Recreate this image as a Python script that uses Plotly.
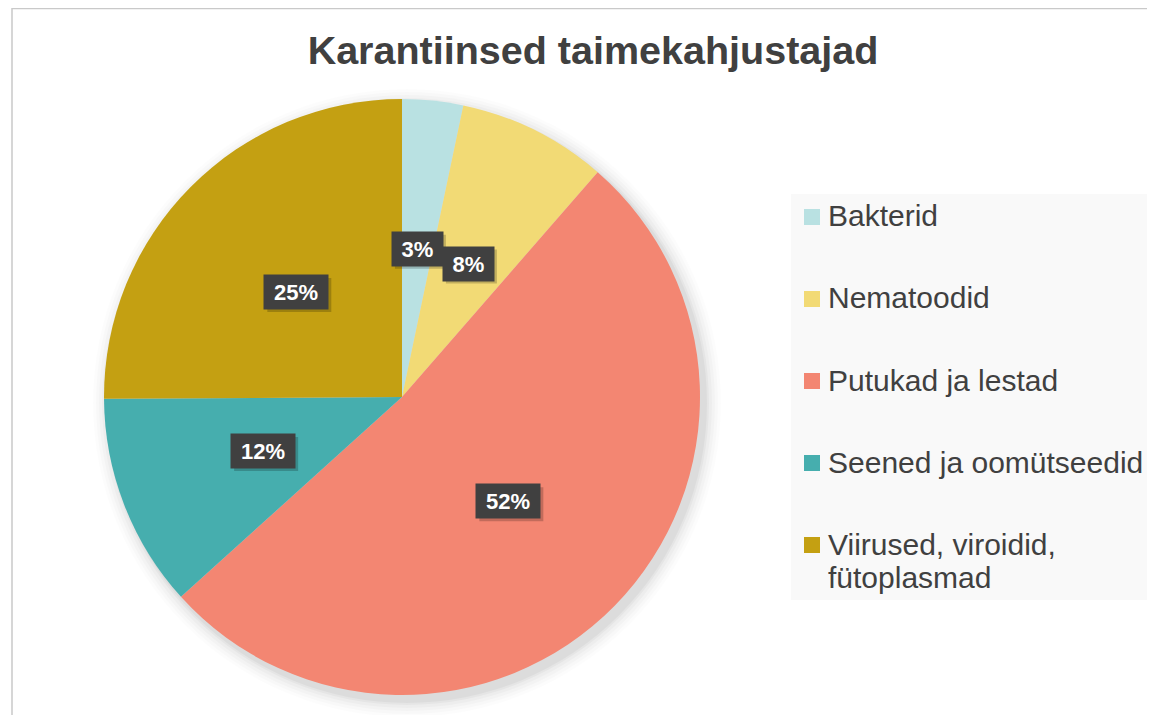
import math
import plotly.graph_objects as go

categories = ["Bakterid", "Nematoodid", "Putukad ja lestad", "Seened ja oomütseedid",
              "Viirused, viroidid, fütoplasmad"]
shares = [3.3, 8.1, 51.9, 11.6, 25.1]
colors = ["#B9E1E2", "#F2DA75", "#F38672", "#46AEAE", "#C4A012"]
title_text = "Karantiinsed taimekahjustajad"
legend_lines = [["Bakterid"], ["Nematoodid"], ["Putukad ja lestad"], ["Seened ja oomütseedid"],
                ["Viirused, viroidid,", "fütoplasmad"]]

W, H = 1155, 715
OFF = 8  # default page body margin
FW, FH = W - OFF, H - OFF
cx, cy, r = 402, 397, 298
TXT = "#404040"
FONT = "Liberation Sans, Arial"


def px(x):
    return (x - OFF) / FW


def py(y):
    return 1 - (y - OFF) / FH


fig = go.Figure()
fig.add_trace(go.Pie(
    labels=categories, values=shares, sort=False, direction="clockwise", rotation=0,
    marker=dict(colors=colors, line=dict(width=0)),
    textinfo="none", hoverinfo="label+percent", showlegend=False,
    domain=dict(x=[px(cx - r), px(cx + r)], y=[py(cy + r), py(cy - r)]),
))

shapes = []
# chart border
shapes.append(dict(type="rect", xref="paper", yref="paper", x0=px(12), x1=px(W + 5),
                   y0=py(H + 5), y1=py(8.5), line=dict(color="#C9C9C9", width=1.5),
                   fillcolor="rgba(0,0,0,0)", layer="below"))
# soft pie shadow
for d, a in [(16, 0.012), (13, 0.015), (10, 0.02), (7, 0.025), (4, 0.03), (2, 0.035)]:
    shapes.append(dict(type="circle", xref="paper", yref="paper",
                       x0=px(cx - r - d + 5), x1=px(cx + r + d + 5),
                       y0=py(cy + r + d + 6), y1=py(cy - r - d + 6),
                       line=dict(width=0), fillcolor=f"rgba(0,0,0,{a})", layer="below"))
# legend background
shapes.append(dict(type="rect", xref="paper", yref="paper", x0=px(791), x1=px(W + 2),
                   y0=py(600), y1=py(194), line=dict(width=0), fillcolor="#F9F9F9",
                   layer="below"))

annotations = []
total = sum(shares)
cum = 0
for v, c in zip(shares, colors):
    theta = 2 * math.pi * (cum + v / 2) / total
    cum += v
    lx = cx + 0.5 * r * math.sin(theta)
    ly = cy - 0.5 * r * math.cos(theta)
    label = f"{round(100 * v / total)}%"
    wbox = 13 * len(label) + 19
    # box shadow
    hw, hh = wbox / 2 + 3, 17
    shapes.append(dict(type="rect", xref="paper", yref="paper",
                       x0=px(lx - hw + 3), x1=px(lx + hw + 3),
                       y0=py(ly + hh + 3), y1=py(ly - hh + 3),
                       line=dict(width=0), fillcolor="rgba(0,0,0,0.2)", layer="above"))
    annotations.append(dict(x=px(lx), y=py(ly), xref="paper", yref="paper", showarrow=False,
                            xanchor="center", yanchor="middle", width=wbox, height=28,
                            borderpad=3, text=f"<b>{label}</b>",
                            font=dict(size=22, color="white", family=FONT),
                            bgcolor="#404040"))

# custom legend
for i, (lines, c) in enumerate(zip(legend_lines, colors)):
    yc = 217 + 82 * i
    shapes.append(dict(type="rect", xref="paper", yref="paper", x0=px(804), x1=px(820),
                       y0=py(yc + 8), y1=py(yc - 8), line=dict(width=0), fillcolor=c))
    for j, t in enumerate(lines):
        annotations.append(dict(x=px(826), y=py(yc - 1 + 33 * j), xref="paper", yref="paper",
                                showarrow=False, xanchor="left", yanchor="middle", text=t,
                                font=dict(size=30, color=TXT, family=FONT)))

fig.update_layout(
    width=FW, height=FH, margin=dict(l=0, r=0, t=0, b=0),
    paper_bgcolor="white", plot_bgcolor="white",
    title=dict(text=f"<b>{title_text}</b>", x=px(593), xanchor="center", y=py(50),
               yanchor="middle", font=dict(size=39.5, color=TXT, family=FONT)),
    shapes=shapes, annotations=annotations, showlegend=False,
)

fig.write_html("out.html")
